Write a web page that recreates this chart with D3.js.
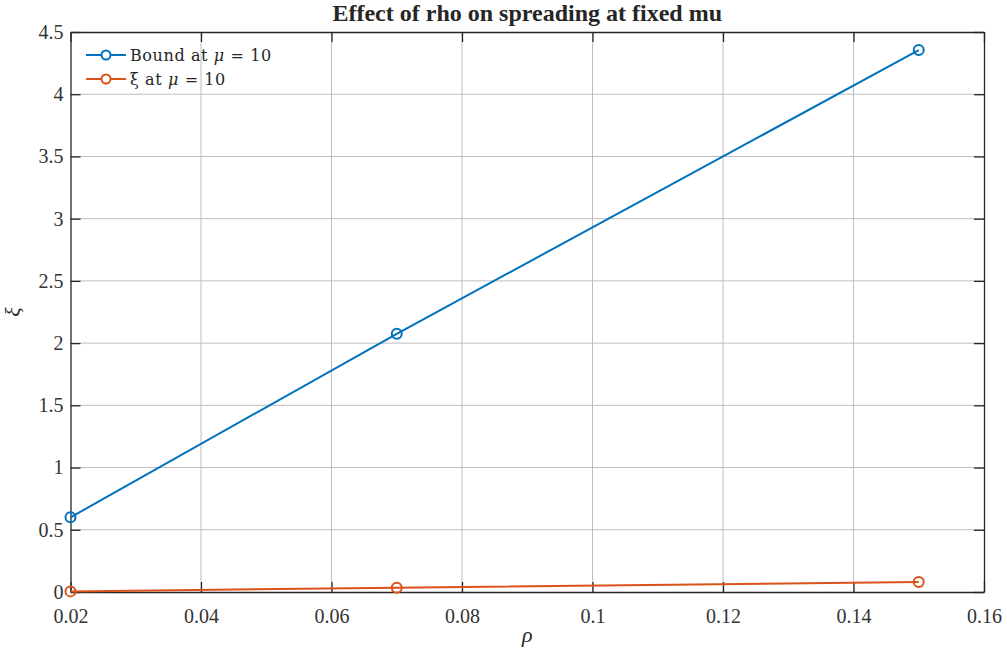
<!DOCTYPE html>
<html>
<head>
<meta charset="utf-8">
<script src="https://cdn.jsdelivr.net/npm/d3@7"></script>
<style>
  body { margin: 0; background: #fff; }
  svg text { font-family: "Liberation Serif", "DejaVu Serif", serif; }
</style>
</head>
<body>
<div id="main"></div>
<script>
const rho = [0.02, 0.07, 0.15]
const boundValues = [0.6, 2.075, 4.355]
const xiValues = [0.005, 0.035, 0.08]
const xTicks = [0.02, 0.04, 0.06, 0.08, 0.1, 0.12, 0.14, 0.16]
const yTicks = [0, 0.5, 1, 1.5, 2, 2.5, 3, 3.5, 4, 4.5]
const seriesNames = ["Bound at ", "\u03be at "]
const colors = ["#0072BD", "#D95319"]

const width = 1007
const height = 655
const margin = { top: 32, right: 23, bottom: 63, left: 70.5 }

const svg = d3.select("#main").append("svg")
  .attr("width", width)
  .attr("height", height)

const x = d3.scaleLinear()
  .domain([0.02, 0.16])
  .range([margin.left, width - margin.right])

const y = d3.scaleLinear()
  .domain([0, 4.5])
  .range([height - margin.bottom, margin.top])

const x0 = margin.left, x1 = width - margin.right
const y0 = height - margin.bottom, y1 = margin.top

// grid
svg.append("g").selectAll("line").data(xTicks.slice(1, -1)).join("line")
  .attr("x1", d => x(d)).attr("x2", d => x(d))
  .attr("y1", y1).attr("y2", y0)
  .attr("stroke", "#bdbdbd").attr("stroke-width", 1)
svg.append("g").selectAll("line").data(yTicks.slice(1, -1)).join("line")
  .attr("x1", x0).attr("x2", x1)
  .attr("y1", d => y(d)).attr("y2", d => y(d))
  .attr("stroke", "#bdbdbd").attr("stroke-width", 1)

// axes (inward ticks, box)
const fmt = d => String(+d.toFixed(2))
const xAxis = d3.axisBottom(x).tickValues(xTicks).tickSize(-10).tickPadding(17).tickFormat(fmt).tickSizeOuter(0)
const yAxis = d3.axisLeft(y).tickValues(yTicks).tickSize(-10).tickPadding(7).tickFormat(fmt).tickSizeOuter(0)
const xTop = d3.axisTop(x).tickValues(xTicks).tickSize(-10).tickFormat("").tickSizeOuter(0)
const yRight = d3.axisRight(y).tickValues(yTicks).tickSize(-10).tickFormat("").tickSizeOuter(0)

function style(g) {
  g.selectAll("path").attr("stroke", "#262626").attr("stroke-width", 1.3)
  g.selectAll("line").attr("stroke", "#262626").attr("stroke-width", 1.3)
  g.selectAll("text").attr("fill", "#333").style("font-size", "20px")
    .style("font-family", "'Liberation Serif', serif")
}

svg.append("g").attr("transform", `translate(0,${y0})`).call(xAxis).call(style)
svg.append("g").attr("transform", `translate(${x0},0)`).call(yAxis).call(style)
svg.append("g").attr("transform", `translate(0,${y1})`).call(xTop).call(style)
svg.append("g").attr("transform", `translate(${x1},0)`).call(yRight).call(style)

// series
const series = [boundValues, xiValues]
const line = d3.line().x((d, i) => x(rho[i])).y(d => y(d))
series.forEach((vals, k) => {
  svg.append("path")
    .datum(vals)
    .attr("fill", "none")
    .attr("stroke", colors[k])
    .attr("stroke-width", 2)
    .attr("d", line)
  svg.append("g").selectAll("circle").data(vals).join("circle")
    .attr("cx", (d, i) => x(rho[i]))
    .attr("cy", d => y(d))
    .attr("r", 5)
    .attr("fill", "none")
    .attr("stroke", colors[k])
    .attr("stroke-width", 2)
})

// legend
const legend = svg.append("g")
seriesNames.forEach((name, k) => {
  const ly = 55 + k * 24
  legend.append("line")
    .attr("x1", 86).attr("x2", 126).attr("y1", ly).attr("y2", ly)
    .attr("stroke", colors[k]).attr("stroke-width", 2)
  legend.append("circle")
    .attr("cx", 106).attr("cy", ly).attr("r", 4.5)
    .attr("fill", "#fff").attr("stroke", colors[k]).attr("stroke-width", 2)
  const t = legend.append("text")
    .attr("x", 130).attr("y", ly + 6)
    .attr("fill", "#262626")
    .style("font-family", "'DejaVu Serif', serif")
    .style("font-size", "16px")
    .style("letter-spacing", "0.6px")
  t.append("tspan").text(name)
  t.append("tspan").style("font-style", "italic").text("\u03bc")
  t.append("tspan").text(" = 10")
})

// title and labels
svg.append("text")
  .attr("x", (x0 + x1) / 2).attr("y", 21)
  .attr("text-anchor", "middle")
  .attr("fill", "#262626")
  .style("font-size", "24px").style("font-weight", "bold")
  .text("Effect of rho on spreading at fixed mu")

svg.append("text")
  .attr("x", (x0 + x1) / 2).attr("y", 642)
  .attr("text-anchor", "middle")
  .attr("fill", "#262626")
  .style("font-size", "22px").style("font-style", "italic")
  .text("\u03c1")

svg.append("text")
  .attr("transform", `translate(20,${(y0 + y1) / 2}) rotate(-90)`)
  .attr("text-anchor", "middle")
  .attr("fill", "#262626")
  .style("font-size", "22px").style("font-style", "italic")
  .text("\u03be")
</script>
</body>
</html>
